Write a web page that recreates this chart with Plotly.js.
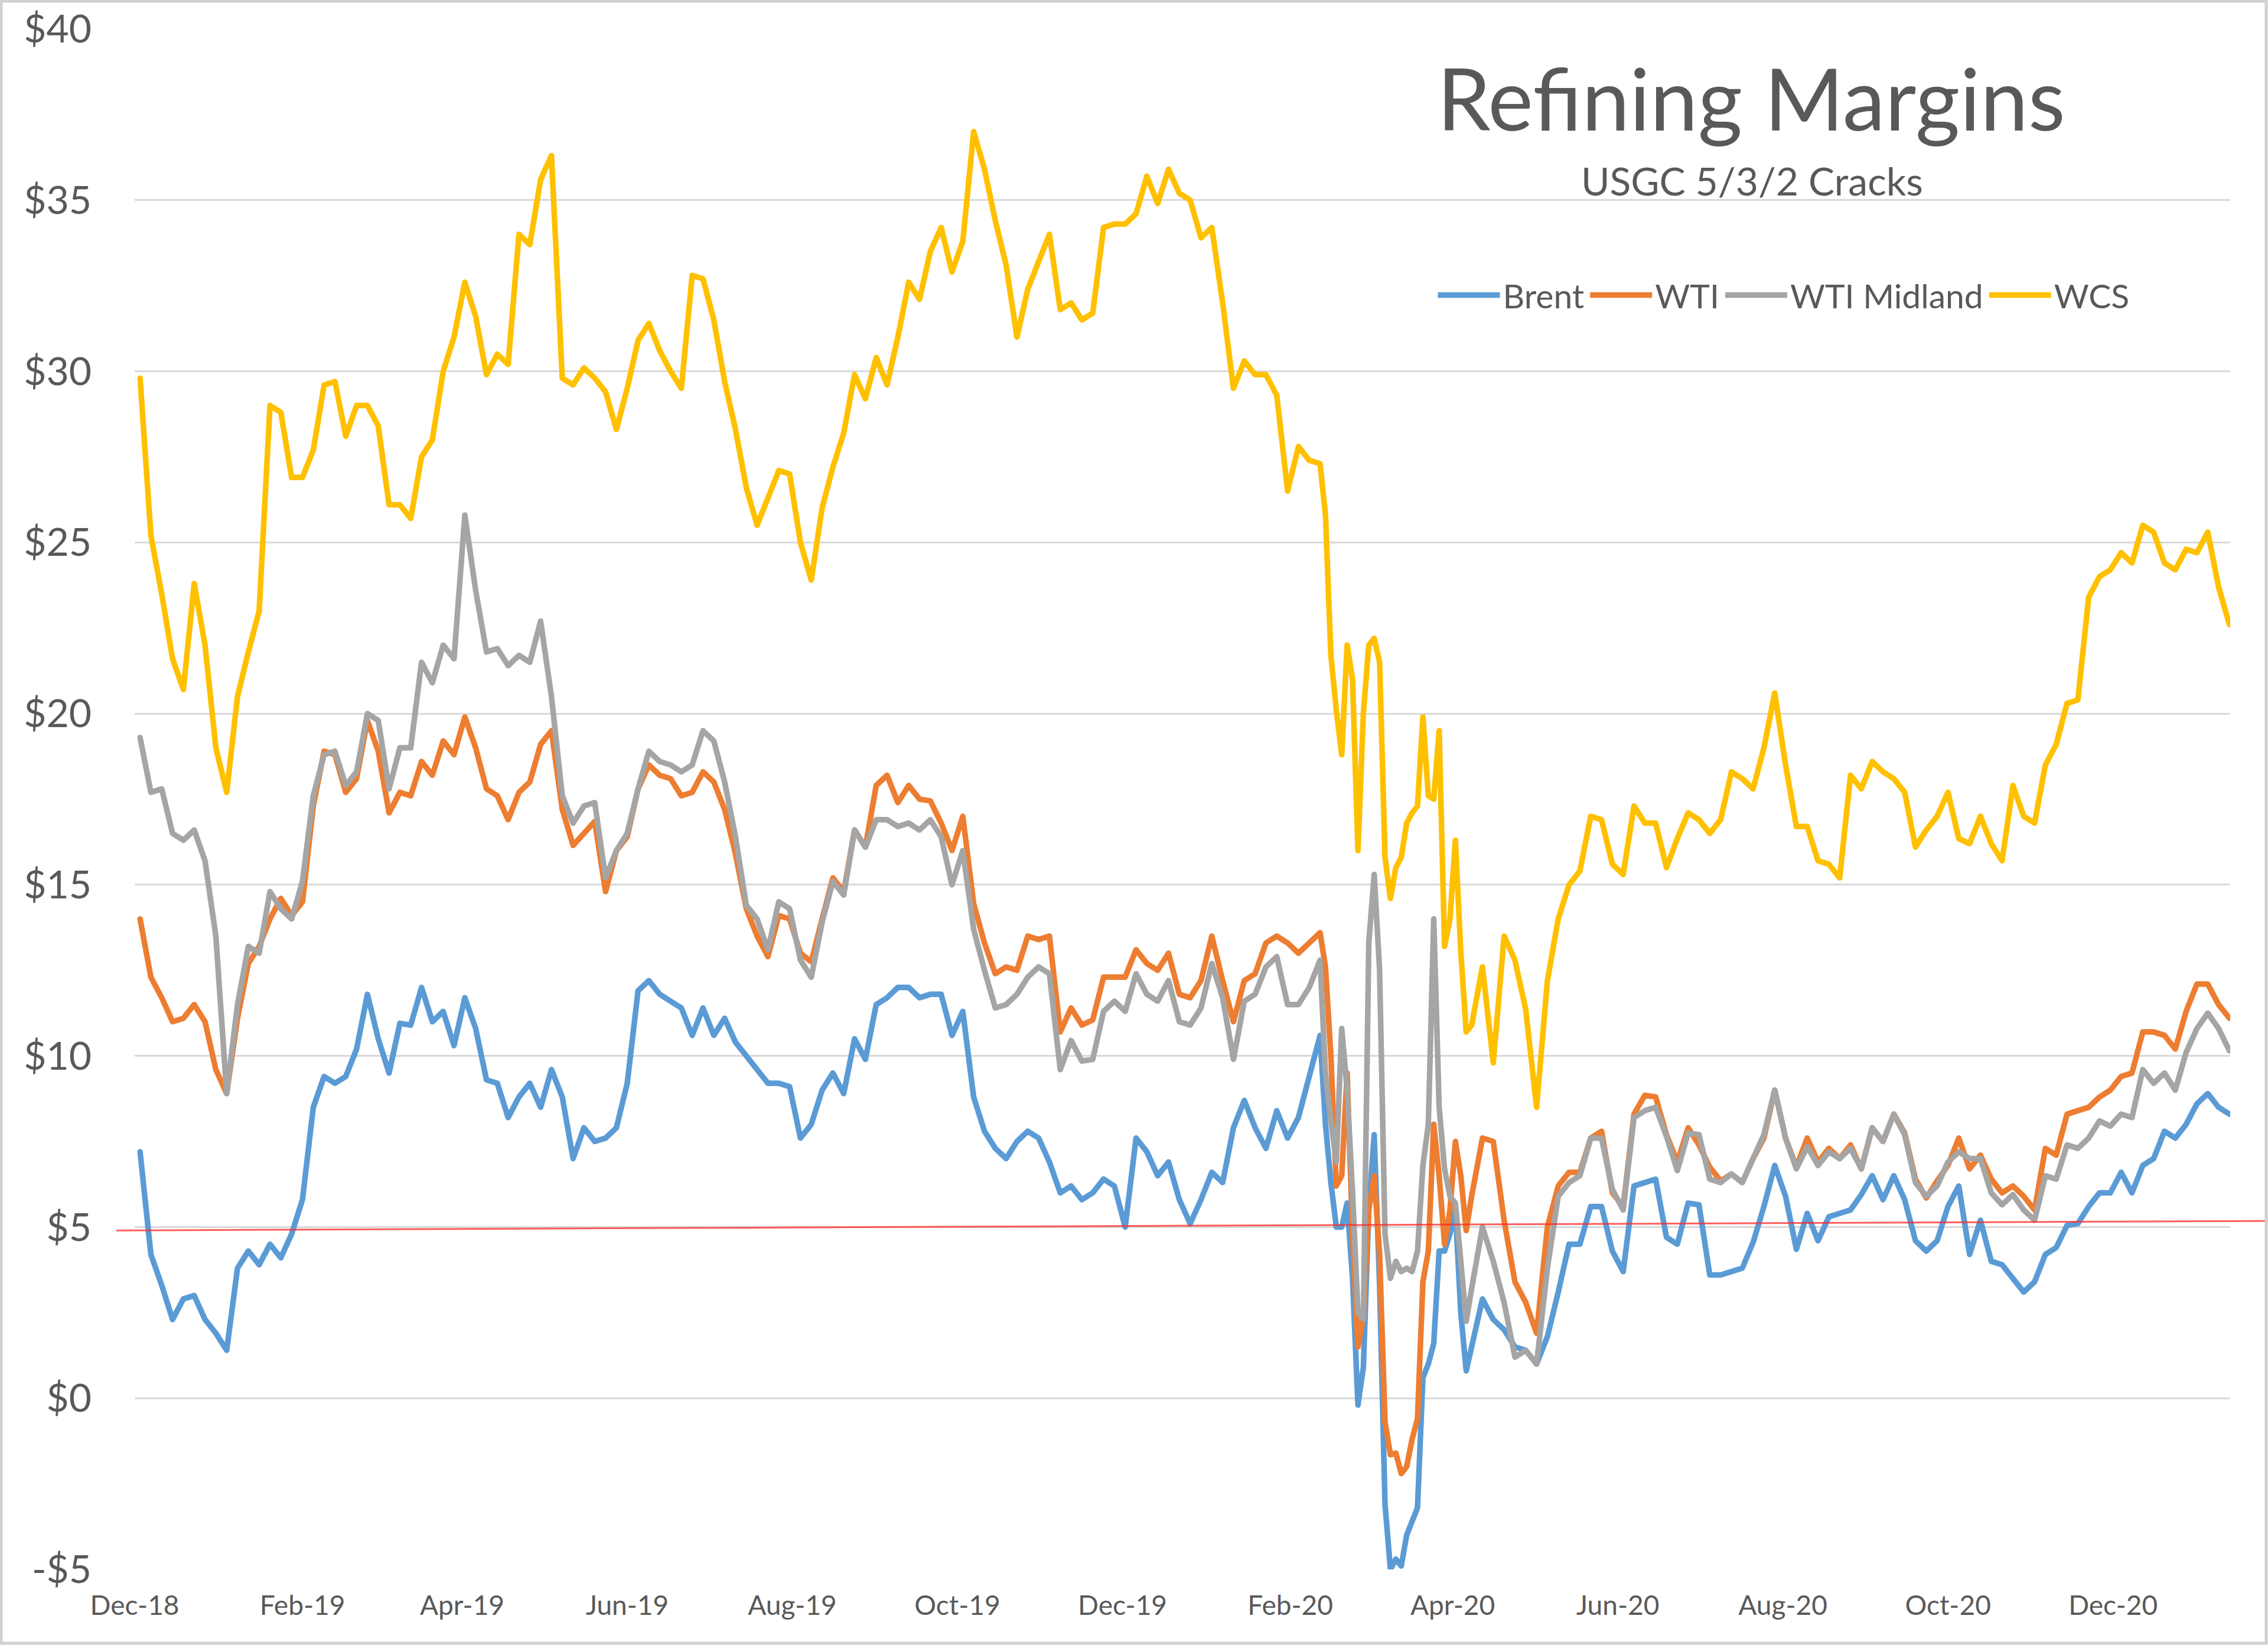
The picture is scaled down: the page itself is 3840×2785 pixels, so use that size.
<!DOCTYPE html>
<html>
<head>
<meta charset="utf-8">
<script src="https://cdn.plot.ly/plotly-3.0.1.min.js"></script>
<style>
  html, body { margin: 0; padding: 0; background: #ffffff; }
  #chart { width: 3840px; height: 2785px; }
  .scatterlayer .js-line { stroke-linejoin: round; stroke-linecap: round; }
</style>
</head>
<body>
<div id="chart"></div>
<script>
// Sample days counted from 1 Dec 2018
const days = [2,6,10,14,18,22,26,30,34,38,42,46,50,54,58,62,66,70,74,78,82,86,90,94,98,102,106,110,114,118,
  122,126,130,134,138,142,146,150,154,158,162,166,170,174,178,182,186,190,194,198,202,206,210,214,218,222,226,230,234,238,
  242,246,250,254,258,262,266,270,274,278,282,286,290,294,298,302,306,310,314,318,322,326,330,334,338,342,346,350,354,358,
  362,366,370,374,378,382,386,390,394,398,402,406,410,414,418,422,426,430,434,438,
  440,442,444,446,448,450,452,454,456,458,460,462,464,466,468,470,472,474,476,478,480,482,484,486,488,490,492,494,
  498,502,506,510,514,518,522,526,530,534,538,542,546,550,554,558,562,566,570,574,578,582,586,590,594,598,602,606,610,614,
  618,622,626,630,634,638,642,646,650,654,658,662,666,670,674,678,682,686,690,694,698,702,706,710,714,718,722,726,730,734,
  738,742,746,750,754,758,762,766,770,774];

const brent = [7.2,4.2,3.3,2.3,2.9,3.0,2.3,1.9,1.4,3.8,
  4.3,3.9,4.5,4.1,4.8,5.8,8.5,9.4,9.2,9.4,
  10.2,11.8,10.5,9.5,10.95,10.9,12.0,11.0,11.3,10.3,
  11.7,10.8,9.3,9.2,8.2,8.8,9.2,8.5,9.6,8.8,
  7.0,7.9,7.5,7.6,7.9,9.2,11.9,12.2,11.8,11.6,
  11.4,10.6,11.4,10.6,11.1,10.4,10.0,9.6,9.2,9.2,
  9.1,7.6,8.0,9.0,9.5,8.9,10.5,9.9,11.5,11.7,
  12.0,12.0,11.7,11.8,11.8,10.6,11.3,8.8,7.8,7.3,
  7.0,7.5,7.8,7.6,6.9,6.0,6.2,5.8,6.0,6.4,
  6.2,5.0,7.6,7.2,6.5,6.9,5.8,5.1,5.8,6.6,
  6.3,7.9,8.7,7.9,7.3,8.4,7.6,8.2,9.4,10.6,
  8.0,6.3,5.0,5.0,5.7,3.5,-0.2,0.9,5.5,7.7,
  3.3,-3.1,-5.0,-4.7,-4.9,-4.0,-3.6,-3.2,0.6,1.0,
  1.6,4.3,4.3,4.8,5.5,2.5,0.8,1.5,
  2.9,2.3,2.0,1.5,1.4,1.0,1.8,3.1,4.5,4.5,
  5.6,5.6,4.3,3.7,6.2,6.3,6.4,4.7,4.5,5.7,
  5.65,3.6,3.6,3.7,3.8,4.55,5.6,6.8,5.9,4.35,
  5.4,4.6,5.3,5.4,5.5,5.95,6.5,5.8,6.5,5.8,
  4.6,4.3,4.6,5.6,6.2,4.2,5.2,4.0,3.9,3.5,
  3.1,3.4,4.2,4.4,5.05,5.1,5.6,6.0,6.0,6.6,
  6.0,6.8,7.0,7.8,7.6,8.0,8.6,8.9,8.5,8.3];

const wti = [14.0,12.3,11.7,11.0,11.1,11.5,11.0,9.6,8.9,11.1,
  12.7,13.2,14.0,14.6,14.1,14.5,17.3,18.9,18.8,17.7,
  18.1,19.8,18.9,17.1,17.7,17.6,18.6,18.2,19.2,18.8,
  19.9,19.0,17.8,17.6,16.9,17.7,18.0,19.1,19.5,17.2,
  16.15,16.5,16.85,14.8,16.0,16.4,17.8,18.5,18.2,18.1,
  17.6,17.7,18.3,18.0,17.2,15.9,14.3,13.5,12.9,14.1,
  14.0,13.0,12.75,14.0,15.2,14.8,16.6,16.1,17.9,18.2,
  17.4,17.9,17.5,17.45,16.8,16.0,17.0,14.45,13.3,12.4,
  12.6,12.5,13.5,13.4,13.5,10.7,11.4,10.9,11.05,12.3,
  12.3,12.3,13.1,12.7,12.5,13.0,11.8,11.7,12.2,13.5,
  12.2,11.0,12.2,12.4,13.3,13.5,13.3,13.0,13.3,13.6,
  12.6,10.0,6.2,6.5,9.5,4.8,1.5,2.4,5.5,6.5,
  4.2,-0.7,-1.65,-1.6,-2.2,-2.0,-1.2,-0.6,3.4,4.3,
  8.0,6.5,4.5,5.5,7.5,6.5,4.9,5.9,
  7.6,7.5,5.2,3.4,2.8,1.9,5.0,6.2,6.6,6.6,
  7.6,7.8,6.0,5.6,8.3,8.85,8.8,7.7,6.9,7.9,
  7.4,6.75,6.35,6.55,6.3,7.0,7.6,9.0,7.6,6.75,
  7.6,6.9,7.3,7.0,7.4,6.7,7.9,7.5,8.3,7.75,
  6.4,5.85,6.35,6.8,7.6,6.7,7.1,6.4,6.0,6.2,
  5.9,5.5,7.3,7.1,8.3,8.4,8.5,8.8,9.0,9.4,
  9.5,10.7,10.7,10.6,10.2,11.3,12.1,12.1,11.5,11.1];

const wtiMidland = [19.3,17.7,17.8,16.5,16.3,16.6,15.7,13.5,8.9,11.5,
  13.2,13.0,14.8,14.3,14.0,15.1,17.6,18.8,18.9,17.9,
  18.3,20.0,19.8,17.8,19.0,19.0,21.5,20.9,22.0,21.6,
  25.8,23.6,21.8,21.9,21.4,21.7,21.5,22.7,20.5,17.6,
  16.8,17.3,17.4,15.2,16.0,16.5,17.8,18.9,18.6,18.5,
  18.3,18.5,19.5,19.2,18.0,16.4,14.4,14.0,13.1,14.5,
  14.3,12.8,12.3,13.9,15.1,14.7,16.6,16.1,16.9,16.9,
  16.7,16.8,16.6,16.9,16.4,15.0,16.0,13.7,12.5,11.4,
  11.5,11.8,12.3,12.6,12.4,9.6,10.45,9.85,9.9,11.3,
  11.6,11.3,12.4,11.8,11.6,12.2,11.0,10.9,11.4,12.7,
  11.7,9.9,11.6,11.8,12.6,12.9,11.5,11.5,12.0,12.8,
  9.5,8.1,6.9,10.8,9.0,6.0,2.5,2.3,13.3,15.3,
  12.5,4.8,3.5,4.0,3.7,3.8,3.7,4.3,6.8,8.0,
  14.0,8.5,6.7,5.9,5.7,4.0,2.25,3.2,
  5.0,4.0,2.8,1.2,1.4,1.0,3.8,5.9,6.3,6.5,
  7.6,7.6,6.1,5.5,8.2,8.4,8.5,7.65,6.65,7.75,
  7.7,6.4,6.3,6.55,6.3,7.0,7.7,9.0,7.6,6.7,
  7.35,6.8,7.2,7.0,7.3,6.7,7.9,7.5,8.3,7.7,
  6.3,5.9,6.2,6.9,7.2,7.0,7.0,6.0,5.65,5.95,
  5.5,5.2,6.5,6.4,7.4,7.3,7.6,8.1,7.95,8.3,
  8.2,9.6,9.2,9.5,9.0,10.1,10.8,11.25,10.8,10.15];

const wcs = [29.8,25.2,23.5,21.6,20.7,23.8,22.0,19.0,17.7,20.5,
  21.8,23.0,29.0,28.8,26.9,26.9,27.7,29.6,29.7,28.1,
  29.0,29.0,28.4,26.1,26.1,25.7,27.5,28.0,30.0,31.0,
  32.6,31.6,29.9,30.5,30.2,34.0,33.7,35.6,36.3,29.8,
  29.6,30.1,29.8,29.4,28.3,29.5,30.9,31.4,30.6,30.0,
  29.5,32.8,32.7,31.5,29.7,28.3,26.6,25.5,26.3,27.1,
  27.0,25.0,23.9,26.0,27.2,28.2,29.9,29.2,30.4,29.6,
  31.0,32.6,32.1,33.5,34.2,32.9,33.8,37.0,35.9,34.4,
  33.1,31.0,32.4,33.2,34.0,31.8,32.0,31.5,31.7,34.2,
  34.3,34.3,34.6,35.7,34.9,35.9,35.2,35.0,33.9,34.2,
  32.0,29.5,30.3,29.9,29.9,29.3,26.5,27.8,27.4,27.3,
  25.8,21.7,20.1,18.8,22.0,21.0,16.0,20.0,22.0,22.2,
  21.5,15.8,14.6,15.5,15.8,16.8,17.1,17.3,19.9,17.6,
  17.5,19.5,13.2,14.0,16.3,13.05,10.7,10.9,
  12.6,9.8,13.5,12.8,11.35,8.5,12.2,14.0,15.0,15.4,
  17.0,16.9,15.6,15.3,17.3,16.8,16.8,15.5,16.35,17.1,
  16.9,16.5,16.9,18.3,18.1,17.8,19.0,20.6,18.5,16.7,
  16.7,15.7,15.6,15.2,18.2,17.8,18.6,18.3,18.1,17.7,
  16.1,16.6,17.0,17.7,16.35,16.2,17.0,16.2,15.7,17.9,
  17.0,16.8,18.5,19.1,20.3,20.4,23.4,24.0,24.2,24.7,
  24.4,25.5,25.3,24.4,24.2,24.8,24.7,25.3,23.7,22.6];

const seriesNames = ['Brent', 'WTI', 'WTI Midland', 'WCS'];
const seriesColors = ['#5B9BD5', '#ED7D31', '#A5A5A5', '#FFC000'];
const yTickVals = [-5, 0, 5, 10, 15, 20, 25, 30, 35, 40];
const yTickText = ['-$5', '$0', '$5', '$10', '$15', '$20', '$25', '$30', '$35', '$40'];
const refLineValues = [4.9, 5.18];

const start = Date.UTC(2018, 11, 1);
const toDate = d => new Date(start + d * 86400000).toISOString().slice(0, 19).replace('T', ' ');
const x = days.map(toDate);

const FONT = 'Lato, Carlito, Calibri, "Open Sans", sans-serif';
const TXT = '#595959';

const ys = [brent, wti, wtiMidland, wcs];
const traces = ys.map((y, i) => ({
  type: 'scatter', mode: 'lines', x: x, y: y, name: seriesNames[i],
  line: { color: seriesColors[i], width: 9.5, simplify: false },
  hoverinfo: 'skip'
}));

// plot area in px: left 228, right 3776, top 49, bottom 2657
const L = 228, R = 3776, T = 49, B = 2657;
const px = v => (v - L) / (R - L);
const py = v => (B - v) / (B - T);

const layout = {
  width: 3840, height: 2785,
  margin: { l: L, r: 3840 - R, t: T, b: 2785 - B, pad: 0 },
  paper_bgcolor: '#ffffff', plot_bgcolor: '#ffffff',
  font: { family: FONT, color: TXT },
  title: {
    text: 'Refining Margins',
    font: { family: FONT, size: 145, color: TXT },
    x: px(2965), xref: 'paper', xanchor: 'center',
    y: py(170), yref: 'paper', yanchor: 'middle'
  },
  annotations: [{
    text: 'USGC 5/3/2 Cracks', showarrow: false,
    xref: 'paper', yref: 'paper', x: px(2966), y: py(306),
    xanchor: 'center', yanchor: 'middle',
    font: { family: FONT, size: 66, color: TXT }
  }],
  showlegend: true,
  legend: {
    orientation: 'h', x: px(3020), xanchor: 'center', y: py(500), yanchor: 'middle',
    xref: 'paper', yref: 'paper',
    font: { family: FONT, size: 57, color: TXT },
    bgcolor: 'rgba(0,0,0,0)', itemwidth: 105, tracegroupgap: 0
  },
  xaxis: {
    type: 'date',
    range: [toDate(0), '2021-01-13 07:00:00'],
    tick0: '2018-12-01', dtick: 'M2', tickformat: '%b-%y',
    showgrid: false, zeroline: false, showline: false, ticks: '',
    tickfont: { family: FONT, size: 46, color: TXT },
    ticklabelstandoff: 30
  },
  yaxis: {
    range: [-5, 40], tickmode: 'array', tickvals: yTickVals, ticktext: yTickText,
    showgrid: true, gridcolor: '#d9d9d9', gridwidth: 3,
    zeroline: false, showline: false, ticks: '',
    tickfont: { family: FONT, size: 66, color: TXT },
    ticklabelstandoff: 72
  },
  shapes: [
    { type: 'line', xref: 'paper', yref: 'y', x0: px(197), x1: px(3840),
      y0: refLineValues[0], y1: refLineValues[1],
      line: { color: 'rgba(255,40,40,0.75)', width: 3 }, layer: 'above' },
    { type: 'rect', xref: 'paper', yref: 'paper', x0: px(2), x1: px(3837), y0: py(2782), y1: py(2),
      line: { color: '#d0d0d0', width: 5 }, fillcolor: 'rgba(0,0,0,0)', layer: 'above' }
  ]
};

Plotly.newPlot('chart', traces, layout, { displayModeBar: false, staticPlot: true });
</script>
</body>
</html>
